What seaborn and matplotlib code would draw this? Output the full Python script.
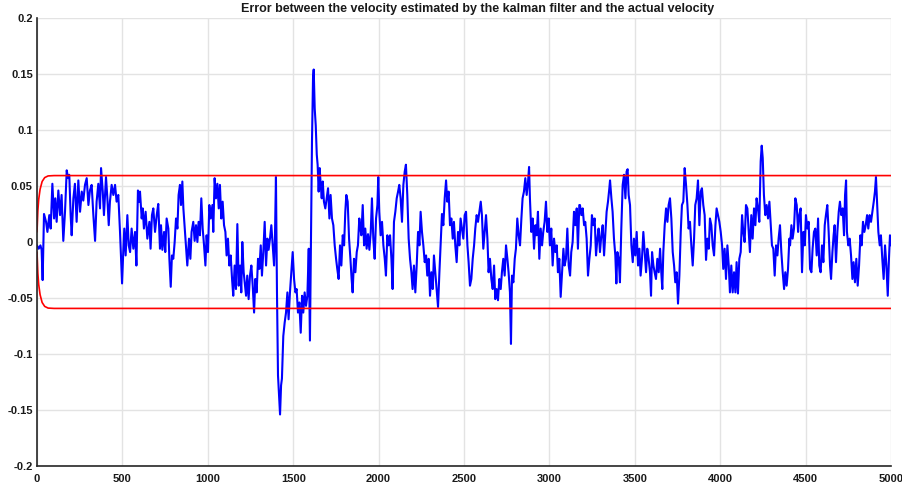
import numpy as np
import pandas as pd
import matplotlib
matplotlib.use("Agg")
import matplotlib.pyplot as plt
import seaborn as sns

# Velocity estimation error (in units of 1e-3), sample index and value per stretch
t1 = [0,10,20,27,33,41,53,61,72,80,90,100,107,115,125,135,144,154,164,174,182,189,197,203,213,222,232,242,252,262,271,281,291,301,310,320,330,340,349,359,369,375,385,392,404,412,420,427,437,447,457,466,476,486,492,498,505,511,519,529,537,545,554,564,574,582,591,599]
e1 = [-3,-6,-3,-7,-34,25,18,9,24,12,52,21,39,18,46,24,42,1,27,64,57,60,24,6,39,52,18,55,27,45,37,51,57,33,46,51,24,1,36,52,30,66,45,24,58,39,15,36,51,42,51,36,42,9,-15,-37,-9,12,-12,24,-3,-9,12,-6,9,-21,46,36]

t2 = [603,613,619,626,636,646,658,665,673,681,691,701,710,720,726,734,744,751,759,769,775,783,790,798,806,814,822,829,837,843,851,857,865,872,880,890,898,905,915,923,931,939,946,954,962,970,978,986,993,1001,1009,1017,1027,1032,1040,1048,1056,1064,1071,1079,1087,1095,1103,1110,1118,1126,1134,1142,1149,1157,1165,1173,1181,1189,1196,1202,1210,1218,1224,1231,1239]
e2 = [45,21,30,12,27,3,18,-6,24,30,9,24,34,-6,15,-7,9,-9,21,12,-15,-40,-12,-15,0,21,12,42,51,33,54,30,12,-3,-21,3,-15,9,18,1,15,0,18,6,39,12,-3,-21,6,-9,33,21,33,9,57,39,52,30,51,21,36,15,9,-12,3,-21,-12,-33,-48,-21,-42,16,-39,-21,-45,0,-27,-39,-48,-30,-51]

t3 = [1247,1255,1263,1271,1278,1286,1294,1302,1310,1317,1325,1333,1341,1349,1356,1364,1372,1380,1388,1393,1399,1405,1411,1417,1423,1429,1434,1442,1450,1458,1466,1473,1481,1489,1497,1505,1513,1520,1528,1536,1544,1552,1559,1567,1575,1583,1591,1598,1604,1610,1616,1620,1626,1632,1638,1643,1649,1655,1661,1667,1673,1680,1688,1696,1704,1712,1719,1727,1735,1743,1751,1758,1766,1774,1782,1790,1798,1805,1811,1819,1827,1835,1842,1848,1856,1864,1872,1879,1887]
e3 = [-30,-21,-39,-63,-33,-45,-15,-24,-3,-30,-9,18,-21,3,-7,3,15,-3,-21,3,58,-45,-119,-137,-154,-128,-122,-84,-72,-63,-45,-69,-45,-27,-9,-33,-45,-42,-63,-54,-81,-48,-63,-45,-57,-48,-6,-88,-3,90,146,154,119,104,78,69,45,66,51,39,54,36,30,39,48,21,42,21,15,-3,-15,-24,-33,-3,-21,6,-3,27,42,36,3,-15,-33,-45,-15,-27,-9,-3,21]

t4 = [1891,1899,1907,1915,1922,1930,1938,1946,1954,1961,1969,1977,1985,1993,1998,2004,2012,2020,2028,2036,2043,2051,2059,2067,2075,2082,2090,2098,2106,2114,2121,2129,2137,2145,2153,2160,2168,2176,2184,2192,2199,2207,2215,2223,2231,2239,2246,2254,2262,2270,2278,2285,2293,2301,2309,2317,2324,2332,2340,2348,2356,2363,2371,2379,2387,2395,2402,2410,2418,2426,2434,2441,2449,2457,2465,2473,2480,2488,2496,2504,2512,2520,2527]
e4 = [15,6,33,-3,12,-6,7,-7,9,39,3,-15,21,33,58,27,6,18,-3,-15,-30,6,-3,6,-15,-42,18,27,39,45,51,39,18,51,63,69,42,3,-15,-27,-42,-21,-45,-21,9,-3,27,9,-3,-18,-12,-30,-15,-48,-27,-42,-12,-27,-42,-58,-27,-3,25,15,39,55,36,45,15,21,3,18,-3,-18,9,-3,21,12,3,24,27,-3,-18]

t5 = [2535,2543,2551,2559,2566,2574,2582,2590,2598,2605,2613,2621,2629,2637,2644,2652,2660,2668,2676,2683,2691,2699,2707,2715,2722,2730,2738,2746,2754,2761,2769,2775,2781,2789,2797,2804,2812,2820,2828,2836,2843,2851,2859,2867,2875,2881,2886,2894,2902,2910,2918,2925,2933,2941,2949,2957,2964,2972,2980,2988,2996,3003,3011,3019,3027,3035,3043,3050,3058,3066,3074,3082,3089,3097,3105,3113,3121,3128,3136,3144,3152,3160,3167,3175]
e5 = [-39,-33,-15,-3,12,24,18,27,36,24,-6,9,24,3,-27,-15,-33,-42,-21,-51,-42,-52,-33,-42,-27,-15,-30,-3,-15,-27,-45,-91,-30,-36,-15,-6,21,6,-3,21,39,45,57,42,54,67,39,9,21,-6,15,6,27,-15,12,-3,9,18,36,9,21,-3,12,-21,3,-9,-3,-27,-15,-49,-27,-6,-21,-15,12,-21,-30,-9,0,27,15,30,-6,33]

t6 = [3179,3187,3195,3203,3210,3218,3226,3234,3242,3249,3257,3265,3273,3281,3288,3296,3304,3312,3320,3328,3335,3343,3351,3355,3363,3370,3378,3386,3392,3398,3406,3413,3421,3429,3437,3445,3452,3458,3464,3472,3480,3488,3495,3503,3511,3519,3527,3534,3542,3550,3558,3566,3573,3581,3589,3595,3601,3609,3616,3624,3632,3640,3648,3655,3661,3667,3675,3683,3691,3698,3706,3714,3722,3730,3737,3745,3753,3761,3769,3776,3784,3792,3800,3808,3815]
e6 = [33,24,30,15,18,3,-30,-15,-3,24,15,21,-12,3,12,-9,6,15,-12,9,27,36,48,55,39,27,3,-12,-37,-9,-15,-36,12,51,60,39,63,65,42,33,-3,-18,3,-12,9,-21,-6,-30,-15,9,-9,-27,-6,-15,-27,-48,-9,-21,-27,-33,-15,-27,-6,-27,-42,-9,15,30,18,33,39,21,-9,-21,-36,-27,-55,-30,9,33,36,66,51,33,12]

t7 = [3823,3831,3839,3847,3854,3862,3870,3878,3886,3893,3901,3909,3917,3925,3933,3940,3948,3956,3964,3972,3979,3987,3995,4003,4011,4018,4026,4034,4042,4050,4057,4065,4073,4081,4089,4096,4104,4112,4120,4128,4135,4143,4151,4159,4167,4174,4182,4190,4198,4206,4213,4221,4229,4237,4243,4249,4256,4264,4272,4280,4288,4296,4303,4311,4319,4327,4335,4342,4350,4358,4366,4374,4381,4389,4397,4405]
e7 = [18,-3,-21,3,33,39,55,15,45,48,33,24,-16,3,-6,21,15,-3,-12,15,30,24,18,9,-3,-24,-6,-33,-3,-21,-45,-21,-45,-27,-45,-18,-46,-15,-9,24,9,0,33,30,9,-9,24,3,30,15,39,30,18,72,86,75,42,24,33,21,36,15,-3,-6,-30,-3,-12,3,15,-9,-27,-42,-27,-39,-24,3]

t8 = [4409,4417,4424,4432,4440,4448,4456,4463,4471,4479,4487,4495,4502,4510,4518,4526,4534,4541,4549,4557,4565,4573,4580,4588,4596,4604,4612,4619,4627,4635,4643,4649,4657,4664,4670,4678,4686,4694,4701,4709,4717,4725,4731,4737,4742,4750,4758,4766,4774,4781,4789,4797,4805,4813,4821,4828,4836,4844,4852,4860,4867,4875,4883,4891,4899,4906,4912,4918,4926,4934,4941,4949,4957,4965,4973,4981,4988,4994,5000]
e8 = [-3,15,3,12,39,33,9,24,30,-27,9,-3,24,12,18,-24,-27,-6,9,12,-12,21,-21,-27,-3,-18,15,24,33,9,-21,-33,-9,6,15,-18,9,27,36,24,30,6,42,55,9,-3,3,-12,-33,-18,-36,-15,-39,-21,6,-3,18,9,15,24,12,24,18,27,36,45,58,36,9,-3,6,-15,-33,-3,-21,-48,-15,6,-3]

# Error bound (upper envelope; the lower one mirrors it)
bound_t = [0, 5, 10, 18, 30, 45, 65, 100, 5000]
bound_v = [0.009, 0.028, 0.038, 0.047, 0.054, 0.0575, 0.059, 0.0593, 0.0593]

x_ticks = [0, 500, 1000, 1500, 2000, 2500, 3000, 3500, 4000, 4500, 5000]
y_ticks = [-0.2, -0.15, -0.1, -0.05, 0, 0.05, 0.1, 0.15, 0.2]
y_tick_labels = ["-0.2", "-0.15", "-0.1", "-0.05", "0", "0.05", "0.1", "0.15", "0.2"]
title = "Error between the velocity estimated by the kalman filter and the actual velocity"

times = t1 + t2 + t3 + t4 + t5 + t6 + t7 + t8
errs = e1 + e2 + e3 + e4 + e5 + e6 + e7 + e8
err_df = pd.DataFrame({"t": times, "err": np.array(errs) / 1000.0})
bound_df = pd.DataFrame({"t": bound_t, "hi": bound_v, "lo": [-v for v in bound_v]})

sns.set_style("white")
plt.rcParams["font.family"] = ["Liberation Sans", "DejaVu Sans"]

fig = plt.figure(figsize=(9.02, 4.86), dpi=100)
ax = fig.add_axes([37 / 902, 20 / 486, 854 / 902, 448 / 486])

sns.lineplot(data=err_df, x="t", y="err", ax=ax, color="#0000ff", linewidth=1.5,
             estimator=None, sort=False)
sns.lineplot(data=bound_df, x="t", y="hi", ax=ax, color="#ff0000", linewidth=1.2,
             estimator=None, sort=False)
sns.lineplot(data=bound_df, x="t", y="lo", ax=ax, color="#ff0000", linewidth=1.2,
             estimator=None, sort=False)

ax.set_xlim(0, 5000)
ax.set_ylim(-0.2, 0.2)
ax.set_xticks(x_ticks)
ax.set_xticklabels([str(v) for v in x_ticks])
ax.set_yticks(y_ticks)
ax.set_yticklabels(y_tick_labels)
ax.set_xlabel("")
ax.set_ylabel("")

ax.grid(True, color="#e3e3e3", linewidth=1.0)
ax.set_axisbelow(True)
for side in ("top", "right"):
    ax.spines[side].set_visible(False)
for side in ("left", "bottom"):
    ax.spines[side].set_color("#262626")
    ax.spines[side].set_linewidth(1.2)

ax.tick_params(axis="both", direction="in", length=6.5, width=1.0, color="#262626",
               labelsize=8, labelcolor="#1a1a1a")
ax.tick_params(axis="x", pad=6)
ax.tick_params(axis="y", pad=3)
for lab in ax.get_xticklabels() + ax.get_yticklabels():
    lab.set_fontweight("bold")

ax.set_title(title, fontsize=9, fontweight="bold", color="#1a1a1a", pad=4, x=0.516)

fig.savefig("out.png", dpi=100)
